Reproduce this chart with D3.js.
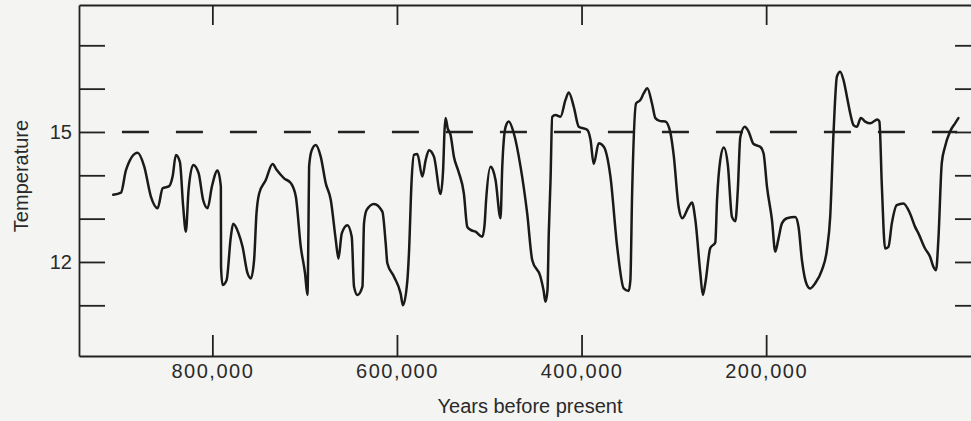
<!DOCTYPE html>
<html>
<head>
<meta charset="utf-8">
<script src="https://cdn.jsdelivr.net/npm/d3@7"></script>
<style>
  html, body { margin: 0; padding: 0; background: #f4f4f2; }
  svg { display: block; }
  text { font-family: "Liberation Sans", Arial, Helvetica, sans-serif; fill: #2a2a2a; }
</style>
</head>
<body>
<svg id="chart" width="971" height="421"></svg>
<script>
// ---- data (years before present in thousands, temperature) ----
const years = [
  907.4, 899.0, 893.6, 881.0, 873.8, 866.6, 859.3, 853.9, 846.8, 843.1,
  839.5, 835.2, 831.6, 828.7, 825.8, 820.8, 814.9, 810.0, 805.2, 800.5,
  794.4, 790.8, 790.6, 789.0, 784.6, 780.0, 777.5, 771.6, 767.3, 761.9,
  758.3, 754.8, 752.2, 749.3, 742.1, 734.8, 730.2, 722.3, 715.0, 709.6,
  704.2, 699.6, 697.0, 695.9, 695.2, 692.3, 688.0, 682.6, 677.2, 671.7,
  666.3, 663.4, 659.8, 653.7, 649.0, 646.5, 642.8, 637.4, 635.7, 632.8,
  624.9, 615.8, 612.2, 610.4, 603.2, 596.0, 593.5, 588.7, 587.0, 584.1,
  581.6, 577.9, 572.5, 568.9, 565.3, 559.9, 552.7, 550.0, 548.4, 547.3,
  545.1, 541.9, 538.3, 533.2, 527.5, 523.8, 520.2, 514.8, 507.6, 505.1,
  503.4, 498.6, 495.9, 493.2, 487.8, 485.9, 482.3, 478.8, 473.4, 466.1,
  458.9, 453.4, 444.5, 441.2, 439.1, 436.9, 435.5, 433.6, 431.8, 428.2,
  422.8, 417.4, 413.8, 408.4, 403.0, 393.9, 390.3, 386.8, 381.4, 375.9,
  368.7, 361.4, 354.3, 348.9, 347.1, 345.2, 340.9, 336.2, 332.7, 328.7,
  323.6, 320.0, 314.6, 309.2, 303.8, 300.2, 294.8, 290.8, 284.0, 280.3,
  276.7, 271.3, 268.6, 265.9, 260.5, 255.1, 253.2, 249.7, 245.9, 241.5,
  237.0, 233.4, 230.7, 228.0, 223.1, 219.0, 213.6, 206.4, 202.8, 199.1,
  193.7, 190.1, 186.9, 182.9, 177.5, 168.5, 164.9, 161.2, 155.8, 152.2,
  146.8, 139.6, 134.2, 130.6, 127.0, 123.3, 119.8, 116.2, 112.5, 108.9,
  105.4, 101.7, 97.4, 92.7, 87.3, 79.4, 77.3, 74.6, 71.1, 67.5,
  63.8, 58.5, 51.3, 44.1, 38.6, 35.0, 27.8, 22.4, 18.8, 15.9,
  13.4, 9.7, 6.2, 0.7, -4.7, -8.3
];
const temperature = [
  13.55, 13.60, 14.12, 14.52, 14.20, 13.51, 13.24, 13.70, 13.75, 13.97,
  14.47, 14.31, 13.27, 12.70, 13.66, 14.24, 14.05, 13.43, 13.24, 13.74,
  14.11, 13.74, 11.89, 11.47, 11.58, 12.58, 12.88, 12.66, 12.35, 11.74,
  11.62, 12.04, 13.12, 13.58, 13.89, 14.26, 14.12, 13.93, 13.82, 13.51,
  12.35, 11.74, 11.24, 12.74, 14.20, 14.58, 14.70, 14.43, 13.82, 13.43,
  12.51, 12.08, 12.66, 12.85, 12.58, 11.43, 11.24, 11.43, 12.89, 13.20,
  13.34, 13.16, 12.43, 11.97, 11.66, 11.27, 11.00, 11.58, 12.20, 13.89,
  14.47, 14.49, 13.97, 14.35, 14.58, 14.43, 13.57, 14.12, 15.05, 15.32,
  15.09, 14.93, 14.43, 14.08, 13.58, 12.81, 12.74, 12.70, 12.58, 12.85,
  13.43, 14.20, 14.12, 13.89, 13.01, 14.20, 15.12, 15.24, 14.97, 14.20,
  13.12, 12.04, 11.66, 11.35, 11.08, 11.35, 12.66, 13.89, 15.35, 15.39,
  15.35, 15.74, 15.91, 15.58, 15.12, 15.05, 14.82, 14.26, 14.74, 14.66,
  13.97, 12.35, 11.39, 11.33, 11.58, 13.58, 15.66, 15.74, 15.89, 16.01,
  15.65, 15.32, 15.25, 15.24, 14.99, 14.47, 13.27, 13.01, 13.27, 13.37,
  12.97, 11.74, 11.24, 11.51, 12.32, 12.45, 13.43, 14.35, 14.64, 14.24,
  13.04, 12.94, 13.66, 14.88, 15.12, 15.01, 14.72, 14.66, 14.51, 13.74,
  12.97, 12.24, 12.51, 12.89, 13.01, 13.04, 12.81, 12.04, 11.47, 11.39,
  11.51, 11.81, 12.27, 13.04, 14.97, 16.28, 16.39, 16.20, 15.82, 15.43,
  15.16, 15.12, 15.32, 15.24, 15.20, 15.29, 15.24, 13.74, 12.31, 12.35,
  12.89, 13.31, 13.35, 13.12, 12.81, 12.66, 12.31, 12.12, 11.89, 11.81,
  12.51, 14.28, 14.66, 15.01, 15.20, 15.32
];

const xTickValues = [800, 600, 400, 200];          // thousands of years
const xTickLabels = ["800,000", "600,000", "400,000", "200,000"];
const yTickValues = [11, 12, 13, 14, 15, 16, 17];
const yTickLabels = ["", "12", "", "", "15", "", ""];
const refValue = 15;                                // dashed reference temperature
const refSpan = [898, -7];                          // years span of the dashed line
const xDomain = [944.5, -32.8];
const yDomain = [9.83, 17.93];
const xTitle = "Years before present";
const yTitle = "Temperature";

// ---- layout ----
(function () {
  const svg = d3.select("#chart");
  const mLeft = 79, mRight = 981, mTop = 5, mBottom = 356;
  const ink = "#222";

  const x = d3.scaleLinear().domain(xDomain).range([mLeft, mRight]);
  const y = d3.scaleLinear().domain(yDomain).range([mBottom, mTop]);

  function styleAxis(g) {
    g.attr("font-family", null).attr("font-size", null);
    g.selectAll("path.domain").attr("stroke", ink).attr("stroke-width", 1.8);
    g.selectAll(".tick line").attr("stroke", ink).attr("stroke-width", 1.8);
  }

  // bottom axis
  svg.append("g")
    .attr("transform", `translate(0,${mBottom})`)
    .call(d3.axisBottom(x).tickValues(xTickValues).tickSizeInner(-21).tickSizeOuter(0)
          .tickPadding(8).tickFormat((d, i) => xTickLabels[i]))
    .call(styleAxis)
    .call(g => g.selectAll(".tick text").attr("font-size", 20).attr("letter-spacing", "1.5px")
          .attr("fill", "#2a2a2a"));

  // top axis
  svg.append("g")
    .attr("transform", `translate(0,${mTop})`)
    .call(d3.axisTop(x).tickValues(xTickValues).tickSizeInner(-20).tickSizeOuter(0)
          .tickFormat(() => ""))
    .call(styleAxis);

  // left axis
  svg.append("g")
    .attr("transform", `translate(${mLeft},0)`)
    .call(d3.axisLeft(y).tickValues(yTickValues).tickSizeInner(-26).tickSizeOuter(0)
          .tickPadding(7).tickFormat((d, i) => yTickLabels[i]))
    .call(styleAxis)
    .call(g => g.selectAll(".tick text").attr("font-size", 20).attr("fill", "#2a2a2a"));

  // right axis
  svg.append("g")
    .attr("transform", `translate(${mRight},0)`)
    .call(d3.axisRight(y).tickValues(yTickValues).tickSizeInner(-26).tickSizeOuter(0)
          .tickFormat(() => ""))
    .call(styleAxis);

  // dashed reference line
  svg.append("line")
    .attr("x1", x(refSpan[0])).attr("x2", x(refSpan[1]))
    .attr("y1", y(refValue)).attr("y2", y(refValue))
    .attr("stroke", ink).attr("stroke-width", 2.4)
    .attr("stroke-dasharray", "27,27");

  // temperature curve
  const pts = years.map((yr, i) => [yr, temperature[i]]);
  const line = d3.line()
    .x(d => x(d[0])).y(d => y(d[1]))
    .curve(d3.curveMonotoneX);
  svg.append("path")
    .attr("d", line(pts))
    .attr("fill", "none")
    .attr("stroke", "#1a1a1a")
    .attr("stroke-width", 2.5)
    .attr("stroke-linejoin", "round")
    .attr("stroke-linecap", "round");

  // axis titles
  svg.append("text")
    .attr("x", 530).attr("y", 413)
    .attr("text-anchor", "middle").attr("font-size", 20)
    .text(xTitle);

  svg.append("text")
    .attr("transform", "translate(28,176) rotate(-90)")
    .attr("text-anchor", "middle").attr("font-size", 20)
    .text(yTitle);
})();
</script>
</body>
</html>
